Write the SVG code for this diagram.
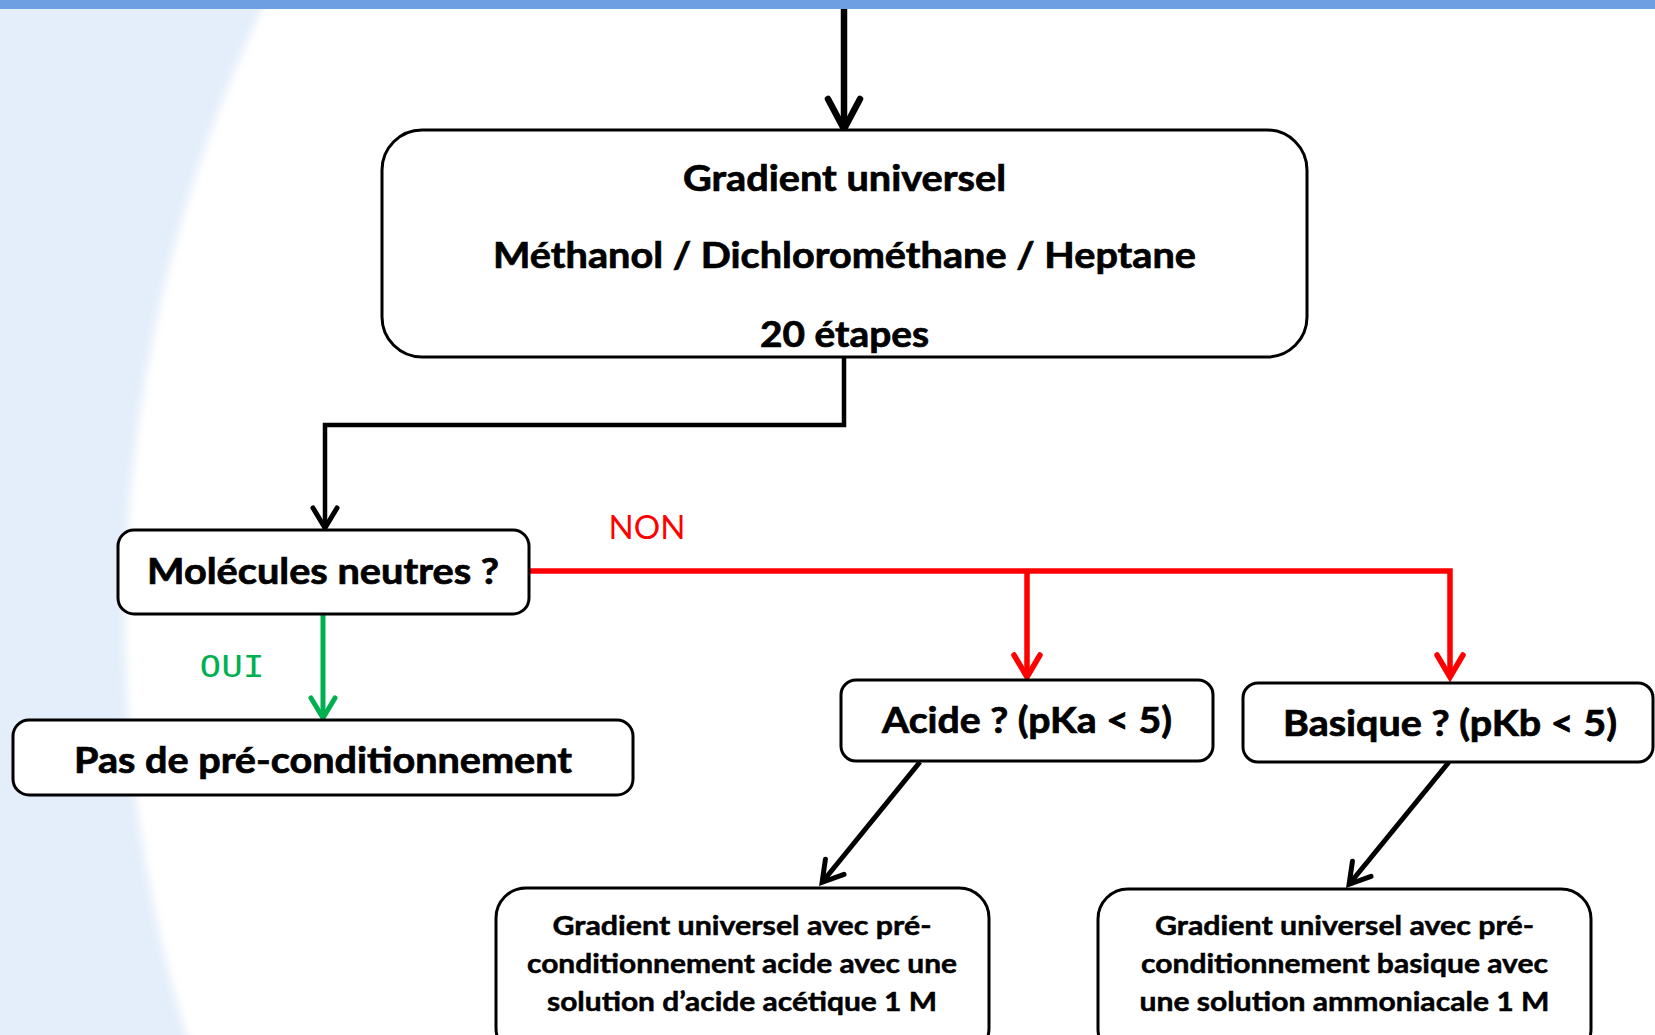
<svg xmlns="http://www.w3.org/2000/svg" width="1655" height="1035" viewBox="0 0 1655 1035">
<style>
.box{fill:#ffffff;stroke:#000000;stroke-width:3}
.t{font-family:Lato,"Open Sans","Liberation Sans",sans-serif;font-weight:bold;fill:#000000;stroke:#000000;text-anchor:middle}
.big{font-size:36px;stroke-width:0.7}
.small{font-size:27px;stroke-width:0.5}
.blk{fill:none;stroke:#000000;stroke-width:4.5}
.red{fill:none;stroke:#ff0000;stroke-width:5.5}
.grn{fill:none;stroke:#00b050;stroke-width:5}
</style>
<defs>
<filter id="soft" x="-5%" y="-5%" width="110%" height="110%"><feGaussianBlur stdDeviation="4"/></filter>
<marker id="mTop" markerUnits="userSpaceOnUse" viewBox="-40 -25 46 50" markerWidth="46" markerHeight="50" refX="-3" refY="0" orient="auto" overflow="visible">
<path d="M-30,-16 L0,0 L-30,16" fill="none" stroke="#000" stroke-width="6.5" stroke-linecap="round" stroke-linejoin="miter"/>
</marker>
<marker id="mBlk" markerUnits="userSpaceOnUse" viewBox="-30 -20 36 40" markerWidth="36" markerHeight="40" refX="-3" refY="0" orient="auto" overflow="visible">
<path d="M-20,-12 L0,0 L-20,12" fill="none" stroke="#000" stroke-width="5" stroke-linecap="round"/>
</marker>
<marker id="mRed" markerUnits="userSpaceOnUse" viewBox="-30 -20 36 40" markerWidth="36" markerHeight="40" refX="-3" refY="0" orient="auto" overflow="visible">
<path d="M-22,-13 L0,0 L-22,13" fill="none" stroke="#ff0000" stroke-width="5.5" stroke-linecap="round"/>
</marker>
<marker id="mGrn" markerUnits="userSpaceOnUse" viewBox="-30 -20 36 40" markerWidth="36" markerHeight="40" refX="-3" refY="0" orient="auto" overflow="visible">
<path d="M-20,-12 L0,0 L-20,12" fill="none" stroke="#00b050" stroke-width="5" stroke-linecap="round"/>
</marker>
</defs>

<g id="background">
<rect x="0" y="0" width="1655" height="1035" fill="#e4eefa"/>
<circle cx="1556" cy="620" r="1431" fill="#ffffff" filter="url(#soft)"/>
<rect x="0" y="0" width="1655" height="9" fill="#6e9fe2"/>
</g>

<g id="connectors">
<path class="blk" d="M844,9 V126" style="stroke-width:6.5" marker-end="url(#mTop)"/>
<path class="blk" d="M844,357 V425 H325 V525" marker-end="url(#mBlk)"/>
<path class="grn" d="M323,614 V715" marker-end="url(#mGrn)"/>
<path class="red" d="M529,571 H1450 V674" marker-end="url(#mRed)"/>
<path class="red" d="M1027,571 V674" marker-end="url(#mRed)"/>
<path class="blk" d="M920,762 L824,880" style="stroke-width:5" marker-end="url(#mBlk)"/>
<path class="blk" d="M1449,762 L1351,882" style="stroke-width:5" marker-end="url(#mBlk)"/>
</g>

<g id="node-gradient">
<rect class="box" x="382" y="130" width="925" height="227" rx="40" ry="40"/>
<text class="t big" x="844.5" y="191" textLength="323" lengthAdjust="spacingAndGlyphs">Gradient universel</text>
<text class="t big" x="844.5" y="268" textLength="703" lengthAdjust="spacingAndGlyphs">Méthanol / Dichlorométhane / Heptane</text>
<text class="t big" x="844.5" y="347" textLength="169" lengthAdjust="spacingAndGlyphs">20 étapes</text>
</g>

<g id="node-neutres">
<rect class="box" x="118" y="530" width="411" height="84" rx="16" ry="16"/>
<text class="t big" x="323" y="584" textLength="352" lengthAdjust="spacingAndGlyphs">Molécules neutres ?</text>
</g>

<g id="label-oui">
<text x="232" y="677" font-family="'DejaVu Sans Mono','Liberation Mono',monospace" font-size="31" fill="#00b050" text-anchor="middle" textLength="65" lengthAdjust="spacingAndGlyphs">OUI</text>
</g>

<g id="label-non">
<text x="647" y="539" font-family="Lato,'Liberation Sans',sans-serif" font-size="33" fill="#ff0000" text-anchor="middle" textLength="77" lengthAdjust="spacingAndGlyphs">NON</text>
</g>

<g id="node-pas">
<rect class="box" x="13" y="720" width="620" height="75" rx="16" ry="16"/>
<text class="t big" x="323" y="773" textLength="498" lengthAdjust="spacingAndGlyphs">Pas de pré-conditionnement</text>
</g>

<g id="node-acide">
<rect class="box" x="841" y="680" width="372" height="81" rx="15" ry="15"/>
<text class="t big" x="1027" y="733" textLength="290" lengthAdjust="spacingAndGlyphs">Acide ? (pKa &lt; 5)</text>
</g>

<g id="node-basique">
<rect class="box" x="1243" y="683" width="410" height="79" rx="15" ry="15"/>
<text class="t big" x="1450" y="736" textLength="334" lengthAdjust="spacingAndGlyphs">Basique ? (pKb &lt; 5)</text>
</g>

<g id="node-acide-result">
<rect class="box" x="496" y="888" width="493" height="170" rx="30" ry="30"/>
<text class="t small" x="742" y="935" textLength="379" lengthAdjust="spacingAndGlyphs">Gradient universel avec  pré-</text>
<text class="t small" x="742" y="973" textLength="430" lengthAdjust="spacingAndGlyphs">conditionnement acide avec une</text>
<text class="t small" x="742" y="1011" textLength="390" lengthAdjust="spacingAndGlyphs">solution d’acide acétique 1 M</text>
</g>

<g id="node-basique-result">
<rect class="box" x="1098" y="889" width="493" height="170" rx="30" ry="30"/>
<text class="t small" x="1344.5" y="935" textLength="379" lengthAdjust="spacingAndGlyphs">Gradient universel avec  pré-</text>
<text class="t small" x="1344.5" y="973" textLength="407" lengthAdjust="spacingAndGlyphs">conditionnement basique avec</text>
<text class="t small" x="1344.5" y="1011" textLength="410" lengthAdjust="spacingAndGlyphs">une solution ammoniacale 1 M</text>
</g>
</svg>
